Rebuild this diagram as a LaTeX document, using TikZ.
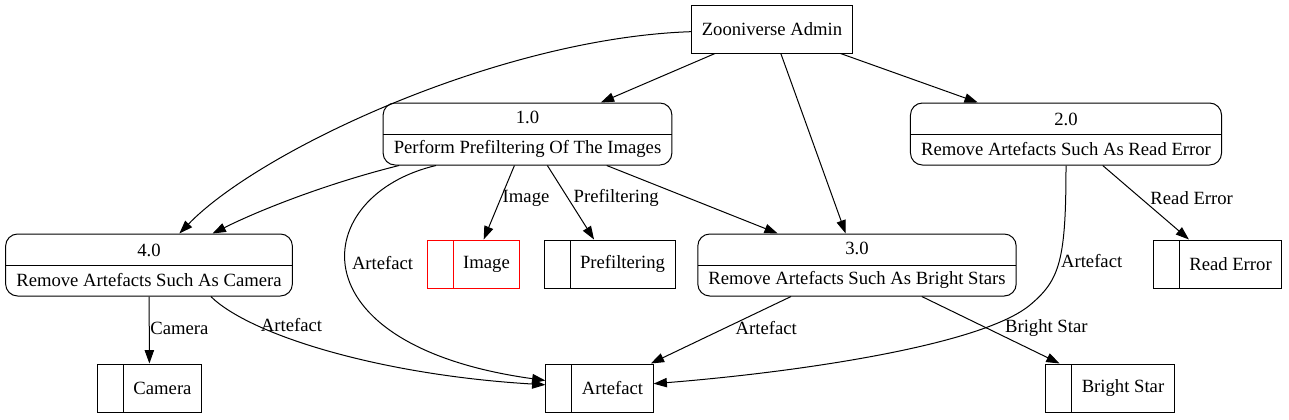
\documentclass[tikz,border=0pt]{standalone}
\usepackage{fontspec}
\setmainfont{Liberation Serif}
\usetikzlibrary{arrows.meta}
\tikzset{>={Triangle[length=10pt,width=7pt]}}
\tikzset{lbl/.style={inner sep=0pt}}
\tikzset{ext/.style={draw,minimum width=54pt,minimum height=36pt,inner xsep=7.5pt}}
\tikzset{proc/.style={draw,rounded corners=9pt,align=center,minimum height=46.5pt,inner xsep=8pt,
  font=\fontsize{14pt}{22.5pt}\selectfont,
  path picture={\draw (path picture bounding box.west) -- (path picture bounding box.east);}}}
\tikzset{store/.style={draw,minimum height=36pt,inner xsep=7.5pt,execute at begin node=\hspace{19.5pt},
  path picture={\draw ([xshift=19.5pt]path picture bounding box.north west) -- ([xshift=19.5pt]path picture bounding box.south west);}}}

\begin{document}
\begin{tikzpicture}[x=0.75pt,y=-0.75pt,line width=0.75pt,font=\fontsize{14pt}{16.8pt}\selectfont]
\useasboundingbox (0,0) rectangle (1289,419);

% entity and processes
\node[ext] (admin) at (772, 29) {Zooniverse Admin};
\node[proc] (p1) at (527.5, 134) {1.0\\Perform Prefiltering Of The Images};
\node[proc] (p2) at (1066, 134) {2.0\\Remove Artefacts Such As Read Error};
\node[proc] (p3) at (857, 265) {3.0\\Remove Artefacts Such As Bright Stars};
\node[proc] (p4) at (149, 265) {4.0\\Remove Artefacts Such As Camera};

% data stores
\node[store,draw=red] (image) at (473.5, 264) {Image};
\node[store] (prefilter) at (609.5, 264) {Prefiltering};
\node[store] (readerr) at (1217.5, 264) {Read Error};
\node[store] (camera) at (149.5, 388) {Camera};
\node[store] (artefact) at (599.5, 388) {Artefact};
\node[store] (bright) at (1110, 388) {Bright Star};

\draw[->] (admin) -- (p1);
\draw[->] (admin) -- (p2);
\draw[->] (admin) -- (p3);
\draw[->] (admin) .. controls (500,38) and (260,150) .. (p4);

\draw[->] (p1) .. controls (340,180) and (270,205) .. (p4);
\draw[->] (p1.199) .. controls (310,195) and (290,345) .. (artefact) node[lbl,pos=.47,right=4pt] {Artefact};
\draw[->] (p1) -- (image) node[lbl,pos=.44,right=1pt] {Image};
\draw[->] (p1) -- (prefilter) node[lbl,pos=.44,right=4pt] {Prefiltering};
\draw[->] (p1) -- (p3);

\draw[->] (p2) -- (readerr) node[lbl,pos=.44,right=7pt] {Read Error};
\draw[->] (p2.south) .. controls (1066,260) and (1060,280) .. (1030,305) node[lbl,pos=.5,right=1pt] {Artefact}
  .. controls (982,345) and (800,372) .. (artefact);

\draw[->] (p3) -- (artefact) node[lbl,pos=.47,right=7.5pt] {Artefact};
\draw[->] (p3) -- (bright) node[lbl,pos=.47,right=13.5pt] {Bright Star};

\draw[->] (p4) -- (camera) node[lbl,pos=.47,right=.5pt] {Camera};
\draw[->] (p4.-27) .. controls (250,335) and (380,375) .. (artefact) node[lbl,pos=.25,right=3pt] {Artefact};
\end{tikzpicture}
\end{document}
